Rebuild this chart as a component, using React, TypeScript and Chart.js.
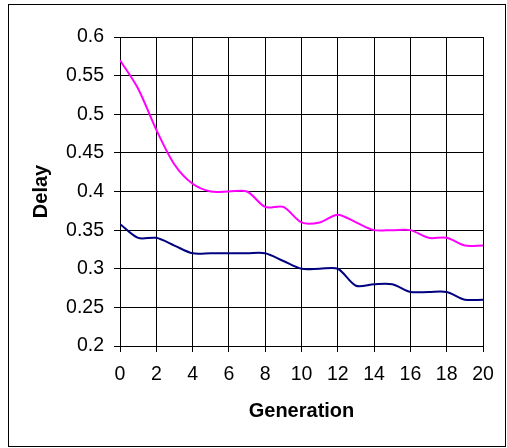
import React, { useEffect, useRef } from "react";
import { Chart, registerables } from "chart.js";

Chart.register(...registerables);

const generations = [0, 1, 2, 3, 4, 5, 6, 7, 8, 9, 10, 11, 12, 13, 14, 15, 16, 17, 18, 19, 20];
const upperSeries = [0.57, 0.533, 0.48, 0.435, 0.41, 0.4, 0.4, 0.4, 0.38, 0.38, 0.36, 0.36, 0.37, 0.36, 0.35, 0.35, 0.35, 0.34, 0.34, 0.33, 0.33];
const lowerSeries = [0.358, 0.34, 0.34, 0.33, 0.32, 0.32, 0.32, 0.32, 0.32, 0.31, 0.3, 0.3, 0.3, 0.278, 0.28, 0.28, 0.27, 0.27, 0.27, 0.26, 0.26];
const xTickValues = [0, 2, 4, 6, 8, 10, 12, 14, 16, 18, 20];
const yTickValues = [0.2, 0.25, 0.3, 0.35, 0.4, 0.45, 0.5, 0.55, 0.6];
const xTitle = "Generation";
const yTitle = "Delay";

const FONT = "'Liberation Sans', Arial, sans-serif";

const outerBorder = {
  id: "outerBorder",
  afterDraw(chart: any) {
    const ctx = chart.ctx;
    ctx.save();
    ctx.strokeStyle = "#000";
    ctx.lineWidth = 1;
    ctx.strokeRect(8.5, 4.5, 497, 442);
    ctx.restore();
  },
};

export default function App() {
  const ref = useRef<HTMLCanvasElement | null>(null);

  useEffect(() => {
    if (!ref.current) return;
    const toPts = (ys: number[]) => generations.map((g, i) => ({ x: g, y: ys[i] }));
    const tickFont = { family: FONT, size: 19.5 };
    const titleFont = { family: FONT, size: 20, weight: "bold" as const };
    const chart = new Chart(ref.current, {
      type: "line",
      data: {
        datasets: [
          {
            label: "upper",
            data: toPts(upperSeries),
            borderColor: "#FF00FF",
            borderWidth: 2,
            pointRadius: 0,
            tension: 0.3,
            fill: false,
          },
          {
            label: "lower",
            data: toPts(lowerSeries),
            borderColor: "#000080",
            borderWidth: 2,
            pointRadius: 0,
            tension: 0.3,
            fill: false,
          },
        ],
      },
      options: {
        animation: false,
        responsive: false,
        devicePixelRatio: 1,
        layout: { padding: { left: 0, top: 37, right: 24, bottom: 0 } },
        plugins: { legend: { display: false }, tooltip: { enabled: false } },
        scales: {
          x: {
            type: "linear",
            min: 0,
            max: 20,
            afterFit: (s: any) => {
              s.height = 102;
            },
            afterBuildTicks: (s: any) => {
              s.ticks = xTickValues.map((v) => ({ value: v }));
            },
            ticks: {
              font: tickFont,
              color: "#000",
              padding: 11,
              maxRotation: 0,
              autoSkip: false,
              callback: (v: any) => String(v),
            },
            grid: { color: "#000", lineWidth: 1, tickLength: 6, drawTicks: true },
            border: { color: "#000", width: 1 },
            title: {
              display: true,
              text: xTitle,
              color: "#000",
              font: titleFont,
              padding: { top: 0, bottom: 25 },
            },
          },
          y: {
            type: "linear",
            min: 0.2,
            max: 0.6,
            afterFit: (s: any) => {
              s.width = 120;
            },
            afterBuildTicks: (s: any) => {
              s.ticks = yTickValues.map((v) => ({ value: v }));
            },
            ticks: {
              font: tickFont,
              color: "#000",
              padding: 10,
              autoSkip: false,
              callback: (v: any) => String(Number(Number(v).toFixed(2))),
            },
            grid: { color: "#000", lineWidth: 1, tickLength: 6, drawTicks: true },
            border: { color: "#000", width: 1 },
            title: {
              display: true,
              text: yTitle,
              color: "#000",
              font: titleFont,
              padding: { top: 29, bottom: 0 },
            },
          },
        },
      },
      plugins: [outerBorder],
    });
    return () => chart.destroy();
  }, []);

  return (
    <div style={{ position: "absolute", left: 0, top: 0, width: 507, height: 448, background: "#fff" }}>
      <canvas ref={ref} width={507} height={448} style={{ width: 507, height: 448, display: "block" }} />
    </div>
  );
}
